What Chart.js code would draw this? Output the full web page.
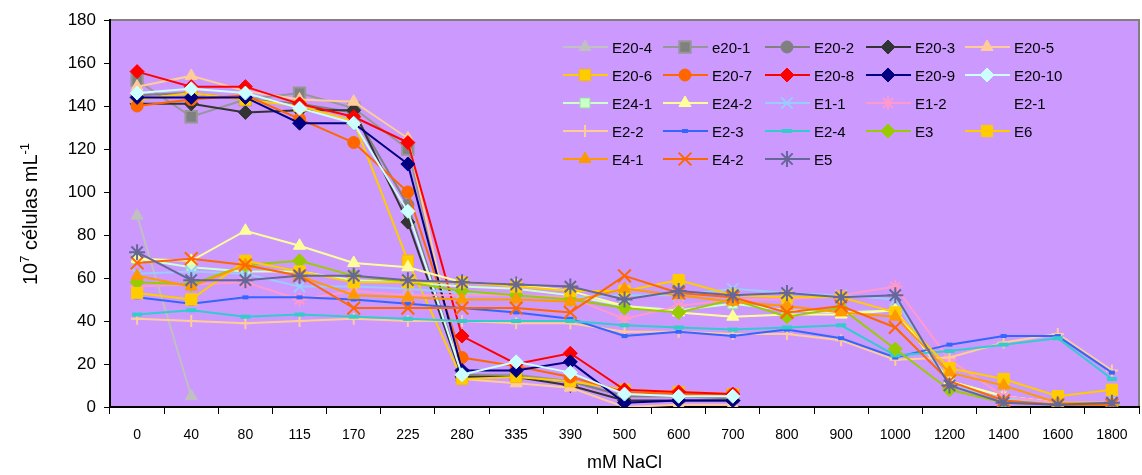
<!DOCTYPE html>
<html>
<head>
<meta charset="utf-8">
<script src="https://cdn.jsdelivr.net/npm/chart.js@4.4.1/dist/chart.umd.min.js"></script>
<style>
  html, body { margin: 0; padding: 0; background: #fff; overflow: hidden; }
  #wrap { width: 1150px; height: 475px; position: relative; }
</style>
</head>
<body>
<div id="wrap"><canvas id="chart"></canvas></div>
<script>
// NaCl concentrations (mM)
const categories = ['0', '40', '80', '115', '170', '225', '280', '335', '390', '500', '600', '700', '800', '900', '1000', '1200', '1400', '1600', '1800'];
const yTicks = [0, 20, 40, 60, 80, 100, 120, 140, 160, 180];

// 10^7 cells per mL
const e20_4  = [89, 5];
const e20_1  = [152, 135, 143, 146, 139, 120, 15, 15, 12, 5, 5, 5];
const e20_2  = [145, 146, 143, 141, 137, 94, 15, 14, 12, 5, 5, 4];
const e20_3  = [141, 141, 137, 138, 138, 86, 14, 14, 10, 3, 3, 3];
const e20_5  = [149, 154, 147, 143, 142, 125, 13, 11, 9, 0, 1, 1];
const e20_6  = [143, 146, 143, 140, 133, 68, 13, 14, 12, 8, 7, 6];
const e20_7  = [140, 143, 145, 134, 123, 100, 23, 19, 14, 7, 6, 6];
const e20_8  = [156, 149, 149, 141, 135, 123, 33, 20, 25, 8, 7, 6];
const e20_9  = [144, 144, 144, 132, 132, 113, 17, 17, 21, 2, 3, 3];
const e20_10 = [146, 148, 146, 139, 132, 91, 15, 21, 16, 6, 5, 5];
const e24_1  = [69, 65, 63, 63, 59, 58, 56, 55, 52, 47, 45, 48, 45, 44, 45, 12, 5, 2, 2];
const e24_2  = [69, 68, 82, 75, 67, 65, 58, 57, 54, 47, 44, 42, 43, 43, 45, 12, 5, 2, 2];
const e1_1   = [62, 63, 62, 56, 56, 55, 53, 52, 51, 52, 52, 55, 53, 52, 50, 10, 4, 2, 2];
const e1_2   = [56, 57, 58, 50, 54, 52, 52, 52, 51, 41, 47, 50, 50, 52, 56, 22, 5, 2, 2];
const e2_1   = [];
const e2_2   = [41, 40, 39, 40, 41, 40, 40, 39, 39, 35, 35, 34, 34, 31, 22, 23, 30, 34, 17];
const e2_3   = [51, 48, 51, 51, 50, 48, 46, 44, 41, 33, 35, 33, 36, 32, 23, 29, 33, 33, 16];
const e2_4   = [43, 45, 42, 43, 42, 41, 40, 40, 40, 38, 37, 36, 37, 38, 24, 26, 29, 32, 13];
const e3     = [58, 57, 66, 68, 61, 58, 54, 52, 50, 46, 44, 50, 42, 46, 27, 8, 2, 1, 1];
const e6     = [53, 50, 68, 63, 58, 58, 58, 56, 54, 54, 59, 52, 51, 51, 44, 18, 13, 5, 8];
const e4_1   = [61, 56, 66, 61, 52, 51, 50, 50, 49, 55, 52, 49, 47, 44, 42, 16, 10, 2, 2];
const e4_2   = [67, 69, 66, 61, 46, 46, 46, 46, 44, 61, 53, 51, 44, 47, 37, 12, 3, 1, 1];
const e5     = [72, 59, 59, 61, 61, 59, 58, 57, 56, 50, 54, 52, 53, 51, 52, 10, 2, 1, 2];

// label, data, line colour, marker, radius, fill, border, border width
const seriesDefs = [
  ['E20-4',  e20_4,  '#C0C0C0', 'triangle', 7, '#C0C0C0', '#C0C0C0', 1],
  ['e20-1',  e20_1,  '#969696', 'rect',     8, '#808080', '#969696', 2],
  ['E20-2',  e20_2,  '#808080', 'circle',   6, '#808080', '#808080', 1],
  ['E20-3',  e20_3,  '#333333', 'rectRot',  7, '#333333', '#333333', 1],
  ['E20-5',  e20_5,  '#FFCC99', 'triangle', 7, '#FFCC99', '#FFCC99', 1],
  ['E20-6',  e20_6,  '#FFCC00', 'rect',     8, '#FFCC00', '#FFB800', 1],
  ['E20-7',  e20_7,  '#FF6600', 'circle',   6, '#FF6600', '#FF6600', 1],
  ['E20-8',  e20_8,  '#FF0000', 'rectRot',  7, '#FF0000', '#FF0000', 1],
  ['E20-9',  e20_9,  '#000080', 'rectRot',  7, '#000080', '#000080', 1],
  ['E20-10', e20_10, '#CCFFFF', 'rectRot',  7, '#CCFFFF', '#CCFFFF', 1],
  ['E24-1',  e24_1,  '#CCFFCC', 'rect',     7, '#CCFFCC', '#99E699', 1],
  ['E24-2',  e24_2,  '#FFFF99', 'triangle', 7, '#FFFF99', '#FFFF99', 1],
  ['E1-1',   e1_1,   '#99CCFF', 'crossRot', 8, '#99CCFF', '#99CCFF', 2],
  ['E1-2',   e1_2,   '#FF99CC', 'star',     7, '#FF99CC', '#FF99CC', 2],
  ['E2-1',   e2_1,   null,      false,      0, null,      null,      0],
  ['E2-2',   e2_2,   '#FFCC99', 'cross',    6, '#FFCC99', '#FFCC99', 2],
  ['E2-3',   e2_3,   '#3366FF', 'line',     3, '#3366FF', '#3366FF', 4],
  ['E2-4',   e2_4,   '#33CCCC', 'line',     5, '#33CCCC', '#33CCCC', 4],
  ['E3',     e3,     '#99CC00', 'rectRot',  7, '#99CC00', '#99CC00', 1],
  ['E6',     e6,     '#FFCC00', 'rect',     8, '#FFCC00', '#FFCC00', 1],
  ['E4-1',   e4_1,   '#FF9900', 'triangle', 7, '#FF9900', '#FF9900', 1],
  ['E4-2',   e4_2,   '#FF6600', 'crossRot', 9, '#FF6600', '#FF6600', 2],
  ['E5',     e5,     '#666699', 'star',     8, '#666699', '#666699', 2]
];

const datasets = seriesDefs.map(function (d, i) {
  return {
    label: d[0],
    data: d[1],
    borderColor: d[2] || 'rgba(0,0,0,0)',
    borderWidth: 2,
    showLine: d[2] !== null,
    tension: 0,
    pointStyle: d[3],
    pointRadius: d[4],
    pointHoverRadius: d[4],
    pointBackgroundColor: d[5],
    pointBorderColor: d[6],
    pointBorderWidth: d[7],
    order: 100 - i
  };
});

const plotBg = {
  id: 'plotBg',
  beforeDraw(chart) {
    const a = chart.chartArea, ctx = chart.ctx;
    ctx.save();
    ctx.fillStyle = '#CC99FF';
    ctx.fillRect(a.left, a.top, a.right - a.left, a.bottom - a.top);
    ctx.strokeStyle = '#808080';
    ctx.lineWidth = 2;
    ctx.beginPath();
    ctx.moveTo(a.left, a.top);
    ctx.lineTo(a.right, a.top);
    ctx.lineTo(a.right, a.bottom);
    ctx.stroke();
    ctx.restore();
  }
};

const legendCols = [563, 663, 765, 866, 965];
const legendRows = [47, 75, 103, 131, 159];

const boxLegend = {
  id: 'boxLegend',
  afterDraw(chart) {
    const ctx = chart.ctx;
    ctx.save();
    chart.data.datasets.forEach(function (ds, i) {
      const x0 = legendCols[i % 5];
      const y = legendRows[Math.floor(i / 5)];
      if (ds.showLine) {
        ctx.strokeStyle = ds.borderColor;
        ctx.lineWidth = 2;
        ctx.beginPath();
        ctx.moveTo(x0, y);
        ctx.lineTo(x0 + 45, y);
        ctx.stroke();
      }
      if (ds.pointStyle) {
        ctx.fillStyle = ds.pointBackgroundColor;
        ctx.strokeStyle = ds.pointBorderColor;
        ctx.lineWidth = ds.pointBorderWidth;
        Chart.helpers.drawPoint(ctx, {
          pointStyle: ds.pointStyle,
          radius: ds.pointRadius,
          rotation: 0,
          borderWidth: ds.pointBorderWidth
        }, x0 + 22, y);
      }
      ctx.fillStyle = '#000';
      ctx.font = '15px "Liberation Sans", Arial, sans-serif';
      ctx.textBaseline = 'middle';
      ctx.textAlign = 'left';
      ctx.fillText(ds.label, x0 + 49, y + 2);
    });
    ctx.restore();
  }
};

const yTitle = {
  id: 'yTitle',
  afterDraw(chart) {
    const ctx = chart.ctx;
    const big = '20px "Liberation Sans", Arial, sans-serif';
    const small = '13px "Liberation Sans", Arial, sans-serif';
    const parts = [['10', false], ['7', true], [' células mL', false], ['-1', true]];
    ctx.save();
    ctx.translate(30, 214);
    ctx.rotate(-Math.PI / 2);
    let total = 0;
    parts.forEach(function (p) {
      ctx.font = p[1] ? small : big;
      total += ctx.measureText(p[0]).width;
    });
    let x = -total / 2;
    ctx.fillStyle = '#000';
    ctx.textBaseline = 'alphabetic';
    parts.forEach(function (p) {
      ctx.font = p[1] ? small : big;
      ctx.fillText(p[0], x, p[1] ? -1 : 7);
      x += ctx.measureText(p[0]).width;
    });
    ctx.restore();
  }
};

new Chart(document.getElementById('chart'), {
  type: 'line',
  data: { labels: categories, datasets: datasets },
  plugins: [plotBg, boxLegend, yTitle],
  options: {
    responsive: true,
    maintainAspectRatio: false,
    animation: false,
    layout: { padding: { top: 20, right: 2, left: 0, bottom: 0 } },
    plugins: { legend: { display: false }, tooltip: { enabled: false } },
    scales: {
      x: {
        offset: true,
        grid: { offset: true, drawOnChartArea: false, drawTicks: true, tickLength: 7, color: '#000' },
        border: { display: true, color: '#000', width: 2 },
        ticks: {
          color: '#000',
          padding: 13,
          maxRotation: 0,
          autoSkip: false,
          font: { family: '"Liberation Sans Narrow", "Liberation Sans", Arial, sans-serif', size: 14 }
        },
        title: {
          display: true,
          text: 'mM NaCl',
          color: '#000',
          padding: { top: 0, bottom: 3 },
          font: { family: '"Liberation Sans", Arial, sans-serif', size: 18, lineHeight: 1 }
        },
        afterFit(scale) { scale.height = 68; }
      },
      y: {
        min: 0,
        max: 180,
        afterBuildTicks(scale) { scale.ticks = yTicks.map(function (v) { return { value: v }; }); },
        grid: { drawOnChartArea: false, drawTicks: true, tickLength: 6, color: '#000' },
        border: { display: true, color: '#000', width: 2 },
        ticks: {
          color: '#000',
          padding: 8,
          font: { family: '"Liberation Sans", Arial, sans-serif', size: 17 }
        },
        afterFit(scale) { scale.width = 110; }
      }
    }
  }
});
</script>
</body>
</html>
